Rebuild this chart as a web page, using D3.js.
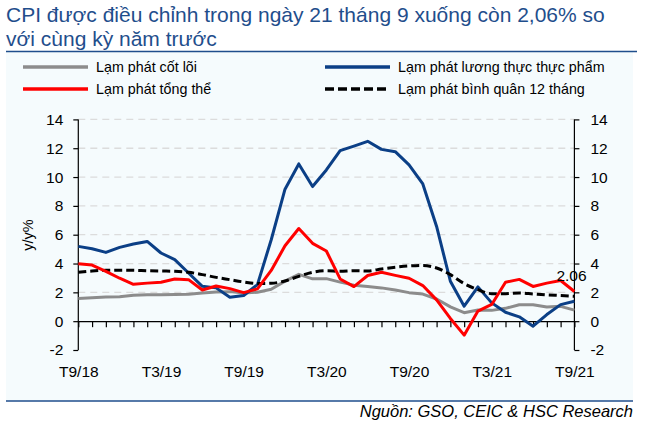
<!DOCTYPE html>
<html>
<head>
<meta charset="utf-8">
<script src="https://cdn.jsdelivr.net/npm/d3@7"></script>
<style>
  body { margin: 0; background: #fff; }
  svg { font-family: "Liberation Sans", Arial, sans-serif; }
</style>
</head>
<body>
<div id="chart"></div>
<script>
// months T9/18 .. T9/21
const months = ["T9/18","T10/18","T11/18","T12/18","T1/19","T2/19","T3/19","T4/19","T5/19","T6/19","T7/19","T8/19",
  "T9/19","T10/19","T11/19","T12/19","T1/20","T2/20","T3/20","T4/20","T5/20","T6/20","T7/20","T8/20",
  "T9/20","T10/20","T11/20","T12/20","T1/21","T2/21","T3/21","T4/21","T5/21","T6/21","T7/21","T8/21","T9/21"];
const monthTicks = ["T9/18","T3/19","T9/19","T3/20","T9/20","T3/21","T9/21"];
const yTicks = [-2, 0, 2, 4, 6, 8, 10, 12, 14];

const core = [1.58,1.62,1.67,1.70,1.80,1.83,1.84,1.85,1.87,1.95,2.02,2.05,1.96,2.01,2.21,2.78,3.25,2.94,2.95,2.71,2.50,2.40,2.31,2.16,
  1.98,1.88,1.54,0.99,0.59,0.78,0.75,0.89,1.14,1.14,0.98,1.03,0.77];
const food = [5.19,5.03,4.77,5.12,5.35,5.53,4.73,4.27,3.34,2.42,2.31,1.66,1.78,2.54,5.65,9.16,10.91,9.34,10.49,11.83,12.15,12.48,11.92,11.76,
  10.84,9.52,6.57,2.77,1.04,2.38,1.27,0.62,0.30,-0.35,0.46,1.15,1.38];
const headline = [3.98,3.89,3.46,2.98,2.56,2.64,2.70,2.93,2.88,2.16,2.44,2.26,1.98,2.24,3.52,5.23,6.43,5.40,4.87,2.93,2.40,3.17,3.39,3.18,
  2.98,2.47,1.48,0.19,-0.97,0.70,1.16,2.70,2.90,2.41,2.64,2.82,2.06];
const avg12 = [3.39,3.48,3.53,3.54,3.53,3.50,3.48,3.46,3.39,3.23,3.04,2.88,2.72,2.61,2.63,2.79,3.11,3.39,3.50,3.46,3.50,3.48,3.62,3.74,
  3.83,3.87,3.69,3.23,2.61,2.19,1.91,1.91,1.96,1.89,1.82,1.78,1.73];

const series = [
  {name: "Lạm phát cốt lõi", values: core, color: "#8c8c8c", dash: null},
  {name: "Lạm phát lương thực thực phẩm", values: food, color: "#0b3f86", dash: null},
  {name: "Lạm phát tổng thể", values: headline, color: "#ff0000", dash: null},
  {name: "Lạm phát bình quân 12 tháng", values: avg12, color: "#000000", dash: "8,4"}
];

const width = 649, height = 430;
const svg = d3.select("#chart").append("svg")
  .attr("width", width)
  .attr("height", height);

// panel background
svg.append("rect")
  .attr("x", 6).attr("y", 52)
  .attr("width", 627).attr("height", 349)
  .attr("fill", "#f5fbfd");

// title
const title = svg.append("text")
  .attr("fill", "#1f4e8c")
  .style("font-size", "21px");
title.append("tspan").attr("x", 6).attr("y", 22)
  .text("CPI được điều chỉnh trong ngày 21 tháng 9 xuống còn 2,06% so");
title.append("tspan").attr("x", 6).attr("y", 46)
  .text("với cùng kỳ năm trước");

svg.append("line")
  .attr("x1", 6).attr("x2", 637).attr("y1", 51.5).attr("y2", 51.5)
  .attr("stroke", "#1f4e8c").attr("stroke-width", 1.5);
svg.append("line")
  .attr("x1", 6).attr("x2", 633).attr("y1", 401).attr("y2", 401)
  .attr("stroke", "#1f4e8c").attr("stroke-width", 1.5);

// source
svg.append("text")
  .attr("x", 633).attr("y", 417)
  .attr("text-anchor", "end")
  .style("font-size", "16.5px")
  .style("font-style", "italic")
  .text("Nguồn: GSO, CEIC & HSC Research");

// legend
const legendPos = [[23, 67], [325, 67], [23, 89], [325, 89]];
series.forEach((s, i) => {
  const [lx, ly] = legendPos[i];
  svg.append("line")
    .attr("x1", lx).attr("x2", lx + 65).attr("y1", ly).attr("y2", ly)
    .attr("stroke", s.color).attr("stroke-width", 3.5)
    .attr("stroke-dasharray", s.dash ? "9,4" : null);
  svg.append("text")
    .attr("x", lx + 73).attr("y", ly + 5)
    .style("font-size", "14.3px")
    .text(s.name);
});

// scales
const x = d3.scalePoint()
  .domain(months)
  .range([78.3, 574.4]);
const y = d3.scaleLinear()
  .domain([-2, 14])
  .range([350, 119.4]);

// gridlines
svg.append("g")
  .selectAll("line")
  .data(yTicks.filter(d => d > 0))
  .join("line")
  .attr("x1", x.range()[0]).attr("x2", x.range()[1])
  .attr("y1", d => y(d)).attr("y2", d => y(d))
  .attr("stroke", "#dcdcdc")
  .attr("stroke-width", 1.3)
  .attr("stroke-dasharray", "7,5");

// left axis
const yLeft = svg.append("g")
  .attr("transform", `translate(${x.range()[0]},0)`)
  .call(d3.axisLeft(y).tickValues(yTicks).tickSize(5).tickPadding(10).tickFormat(d => String(d)));
// right axis
const yRight = svg.append("g")
  .attr("transform", `translate(${x.range()[1]},0)`)
  .call(d3.axisRight(y).tickValues(yTicks).tickSize(5).tickPadding(11).tickFormat(d => String(d)));
[yLeft, yRight].forEach(g => {
  g.select(".domain").remove();
  g.append("line")
    .attr("y1", y(-2)).attr("y2", y(14))
    .attr("stroke", "#000").attr("stroke-width", 1.2);
  g.selectAll("text").style("font-size", "15.5px").attr("fill", "#000");
  g.selectAll(".tick line").attr("stroke-width", 1.2);
});

// zero line with month ticks
const xZero = svg.append("g")
  .attr("transform", `translate(0,${y(0)})`)
  .call(d3.axisBottom(x).tickSize(6).tickSizeOuter(0).tickFormat(""));
xZero.select(".domain").attr("stroke-width", 1.2);
xZero.selectAll(".tick line").attr("stroke-width", 1.2);

// month labels
const xLabels = svg.append("g")
  .attr("transform", `translate(0,${y(-2)})`)
  .call(d3.axisBottom(x).tickValues(monthTicks).tickSize(0).tickPadding(16));
xLabels.select(".domain").remove();
xLabels.selectAll("text").style("font-size", "15.5px").attr("fill", "#000");

// y axis title
svg.append("text")
  .attr("transform", `translate(33,235) rotate(-90)`)
  .attr("text-anchor", "middle")
  .style("font-size", "14.5px")
  .text("y/y%");

// lines
const order = [0, 1, 3, 2];
order.forEach(i => {
  const s = series[i];
  const line = d3.line()
    .x((d, j) => x(months[j]))
    .y(d => y(d))
    .curve(s.dash ? d3.curveMonotoneX : d3.curveLinear);
  svg.append("path")
    .datum(s.values)
    .attr("d", line)
    .attr("fill", "none")
    .attr("stroke", s.color)
    .attr("stroke-width", 3)
    .attr("stroke-linejoin", "round")
    .attr("stroke-dasharray", s.dash);
});

// end label
const last = headline[headline.length - 1];
svg.append("text")
  .attr("x", x(months[months.length - 1]) - 18)
  .attr("y", y(last) - 10)
  .style("font-size", "15.5px")
  .text(last.toFixed(2));
</script>
</body>
</html>
